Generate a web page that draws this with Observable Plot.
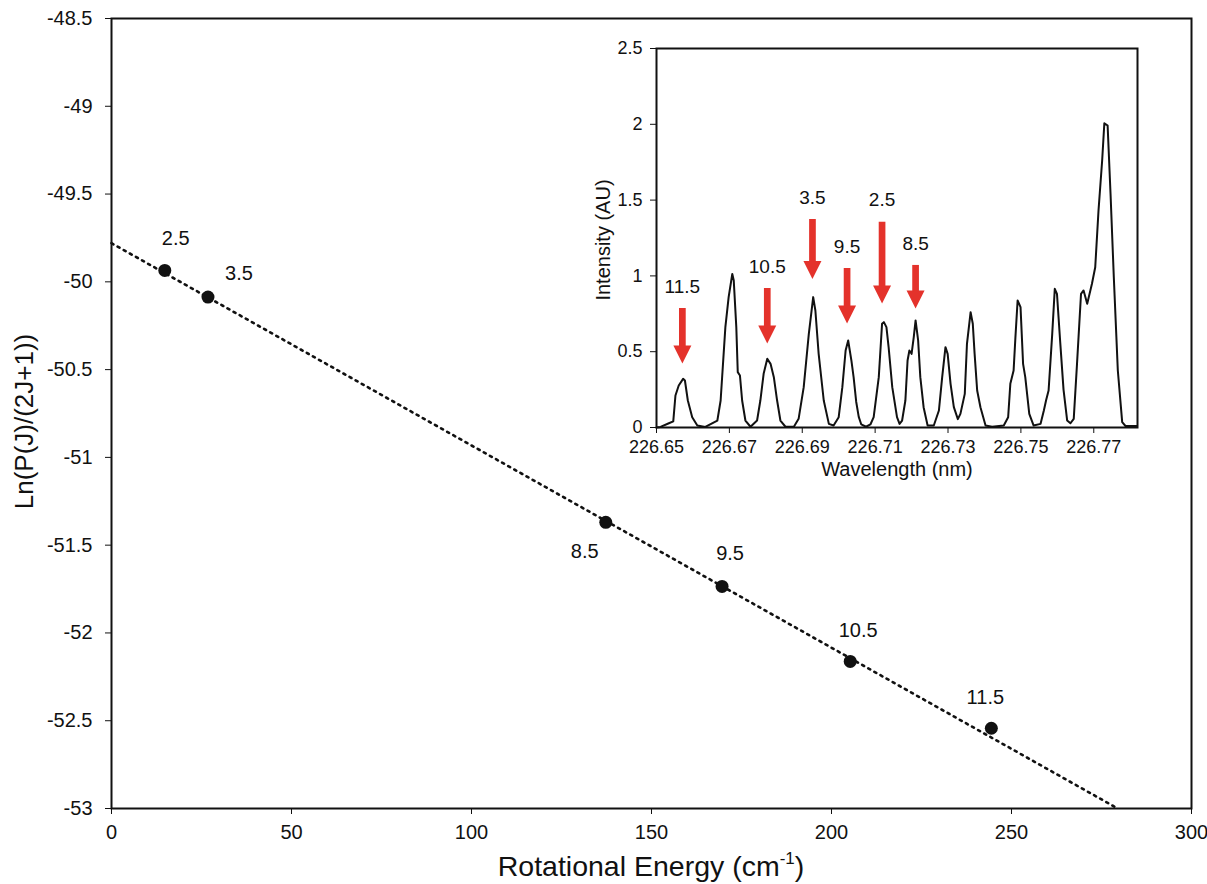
<!DOCTYPE html>
<html><head><meta charset="utf-8">
<script src="https://cdn.jsdelivr.net/npm/d3@7"></script>
<script src="https://cdn.jsdelivr.net/npm/@observablehq/plot@0.6"></script>
<style>
body{margin:0;background:#fff;}
#wrap{position:relative;width:1207px;height:884px;overflow:hidden;}
#inset{position:absolute;left:560px;top:30px;}
</style></head><body><div id="wrap"><div id="main"></div><div id="inset"></div></div>
<script>
const FONT = "'Liberation Sans', Arial, Helvetica, sans-serif";
const INK = "#111";
const RED = "#e4322b";

// ---- Main chart data ----
const jLabels = ["2.5", "3.5", "8.5", "9.5", "10.5", "11.5"];
const rotEnergy = [14.8, 26.8, 137.3, 169.6, 205.2, 244.4];
const lnPop = [-49.935, -50.087, -51.370, -51.735, -52.162, -52.543];
const fitEnergy = [0, 279.5];
const fitLn = [-49.78, -53.0];
const xTicks = [0, 50, 100, 150, 200, 250, 300];
const yTicks = [-53, -52.5, -52, -51.5, -51, -50.5, -50, -49.5, -49, -48.5];

// ---- Inset data ----
const spectrum = [
[226.6500,0],[226.6511,0.004],[226.6534,0.028],[226.6546,0.040],[226.6552,0.211],[226.6561,0.277],
[226.6573,0.321],[226.6578,0.310],[226.6586,0.178],[226.6598,0.068],[226.6612,0.013],[226.6634,0.004],
[226.6667,0.046],[226.6676,0.178],[226.6689,0.662],[226.6698,0.860],[226.6708,1.013],[226.6712,0.970],
[226.6719,0.662],[226.6723,0.365],[226.6729,0.343],[226.6735,0.178],[226.6744,0.046],[226.6758,0.005],
[226.6776,0.046],[226.6785,0.178],[226.6794,0.354],[226.6804,0.453],[226.6813,0.420],[226.6822,0.332],
[226.6831,0.178],[226.6840,0.046],[226.6854,0.005],[226.6877,0.005],[226.6890,0.057],[226.6904,0.266],
[226.6918,0.618],[226.6930,0.860],[226.6936,0.772],[226.6945,0.486],[226.6959,0.178],[226.6973,0.024],
[226.6986,0.013],[226.7000,0.068],[226.7010,0.266],[226.7019,0.508],[226.7026,0.574],[226.7035,0.440],
[226.7041,0.330],[226.7048,0.170],[226.7055,0.070],[226.7062,0.020],[226.7075,0.005],[226.7087,0.020],
[226.7096,0.068],[226.7110,0.332],[226.7119,0.684],[226.7124,0.695],[226.7131,0.662],[226.7137,0.530],
[226.7147,0.266],[226.7160,0.068],[226.7167,0.024],[226.7174,0.046],[226.7183,0.178],[226.7189,0.442],
[226.7194,0.508],[226.7200,0.486],[226.7206,0.596],[226.7211,0.706],[226.7218,0.574],[226.7224,0.332],
[226.7233,0.134],[226.7244,0.013],[226.7261,0.013],[226.7275,0.112],[226.7284,0.332],[226.7293,0.530],
[226.7299,0.486],[226.7307,0.288],[226.7316,0.134],[226.7327,0.055],[226.7334,0.090],[226.7346,0.222],
[226.7352,0.552],[226.7362,0.761],[226.7368,0.684],[226.7373,0.486],[226.7380,0.244],[226.7389,0.134],
[226.7403,0.013],[226.7421,0.005],[226.7453,0.013],[226.7465,0.068],[226.7471,0.288],[226.7480,0.376],
[226.7485,0.596],[226.7491,0.838],[226.7499,0.794],[226.7506,0.420],[226.7512,0.332],[226.7523,0.090],
[226.7535,0.013],[226.7554,0.024],[226.7563,0.112],[226.7569,0.178],[226.7576,0.244],[226.7586,0.618],
[226.7593,0.915],[226.7599,0.882],[226.7608,0.560],[226.7617,0.250],[226.7627,0.046],[226.7636,0.028],
[226.7645,0.057],[226.7654,0.420],[226.7665,0.882],[226.7672,0.904],[226.7682,0.816],[226.7695,0.948],
[226.7704,1.057],[226.7713,1.431],[226.7723,1.761],[226.7729,2.007],[226.7738,1.992],[226.7746,1.542],
[226.7755,0.991],[226.7766,0.376],[226.7778,0.035],[226.7787,0.010],[226.7819,0.010]
];
const arrowJ = ["11.5", "10.5", "3.5", "9.5", "2.5", "8.5"];
const arrowWl = [226.6571, 226.6804, 226.6928, 226.7023, 226.7119, 226.7211];
const arrowTop = [0.785, 0.917, 1.372, 1.049, 1.354, 1.069];
const arrowTip = [0.422, 0.554, 0.98, 0.686, 0.818, 0.785];
const wlTicks = [226.65, 226.67, 226.69, 226.71, 226.73, 226.75, 226.77];
const intTicks = [0, 0.5, 1, 1.5, 2, 2.5];

// ---- Layout config (pixel offsets of point labels) ----
const labelOffset = {"2.5": [11, -32], "3.5": [31, -24], "8.5": [-21, 29], "9.5": [8, -33], "10.5": [8, -31], "11.5": [-6, -31]};

const points = jLabels.map((j, i) => ({j, e: rotEnergy[i], v: lnPop[i]}));
const fit = fitEnergy.map((e, i) => ({e, v: fitLn[i]}));

const main = Plot.plot({
  width: 1207, height: 884,
  marginLeft: 111, marginRight: 16, marginTop: 18, marginBottom: 76,
  style: {fontFamily: FONT, fontSize: "20px", color: INK, background: "white"},
  x: {domain: [0, 300]},
  y: {domain: [-53, -48.5]},
  marks: [
    Plot.axisX({ticks: xTicks, tickSize: 6, tickPadding: 10, tickFormat: d => String(d), label: null, fontSize: 20}),
    Plot.axisY({ticks: yTicks, tickSize: 6, tickPadding: 13, tickFormat: d => String(d), label: null, fontSize: 20}),
    Plot.line(fit, {x: "e", y: "v", stroke: INK, strokeWidth: 2.6, strokeDasharray: "2.2,4.8"}),
    Plot.dot(points, {x: "e", y: "v", r: 6.5, fill: INK}),
    ...points.map(p => Plot.text([p], {x: "e", y: "v", text: "j", fontSize: 20, dx: labelOffset[p.j][0], dy: labelOffset[p.j][1]})),
    Plot.text(["Ln(P(J)/(2J+1))"], {text: d => d, frameAnchor: "left", textAnchor: "middle", lineAnchor: "middle", dx: -87, dy: 8, rotate: -90, fontSize: 26}),
    Plot.frame({stroke: INK, strokeWidth: 2})
  ]
});
document.getElementById("main").append(main);

// x axis title with superscript
{
  const xr = main.scale("x").range;
  const t = d3.select(main).append("text")
    .attr("x", (xr[0] + xr[1]) / 2).attr("y", 884 - 8)
    .attr("text-anchor", "middle").attr("font-size", 28.5)
    .attr("font-family", FONT).attr("fill", INK);
  t.append("tspan").text("Rotational Energy (cm");
  t.append("tspan").attr("dy", -12).attr("font-size", 17).text("-1");
  t.append("tspan").attr("dy", 12).text(")");
}

// ---- Inset ----
const arrows = arrowJ.map((j, i) => ({j, x: arrowWl[i], top: arrowTop[i], tip: arrowTip[i]}));
const arrowHead = {
  draw(ctx, size) {
    const r = Math.sqrt(size / Math.PI);
    ctx.moveTo(-r, -2 * r); ctx.lineTo(r, -2 * r); ctx.lineTo(0, 0); ctx.closePath();
  }
};

const inset = Plot.plot({
  width: 590, height: 470,
  marginLeft: 96, marginRight: 13, marginTop: 18, marginBottom: 73,
  style: {fontFamily: FONT, fontSize: "18px", color: INK, background: "none"},
  x: {domain: [226.65, 226.782]},
  y: {domain: [0, 2.5]},
  marks: [
    Plot.axisX({ticks: wlTicks, tickSize: 6, tickPadding: 7, tickFormat: d3.format(".2f"), label: null, fontSize: 18}),
    Plot.axisY({ticks: intTicks, tickSize: 6, tickPadding: 8, tickFormat: d => String(d), label: null, fontSize: 18}),
    Plot.line(spectrum, {x: d => d[0], y: d => d[1], stroke: INK, strokeWidth: 2}),
    Plot.ruleX(arrows, {x: "x", y1: "top", y2: "tip", stroke: RED, strokeWidth: 6.7, insetBottom: 16}),
    Plot.dot(arrows, {x: "x", y: "tip", r: 9, symbol: arrowHead, fill: RED, stroke: "none"}),
    Plot.text(arrows, {x: "x", y: "top", text: "j", dy: -22, fontSize: 19}),
    Plot.text(["Intensity (AU)"], {text: d => d, frameAnchor: "left", textAnchor: "middle", lineAnchor: "middle", dx: -53, dy: 2, rotate: -90, fontSize: 20}),
    Plot.text(["Wavelength (nm)"], {text: d => d, frameAnchor: "bottom", textAnchor: "middle", lineAnchor: "middle", dy: 42, fontSize: 20}),
    Plot.frame({stroke: INK, strokeWidth: 2})
  ]
});
document.getElementById("inset").append(inset);
</script>
</body></html>
